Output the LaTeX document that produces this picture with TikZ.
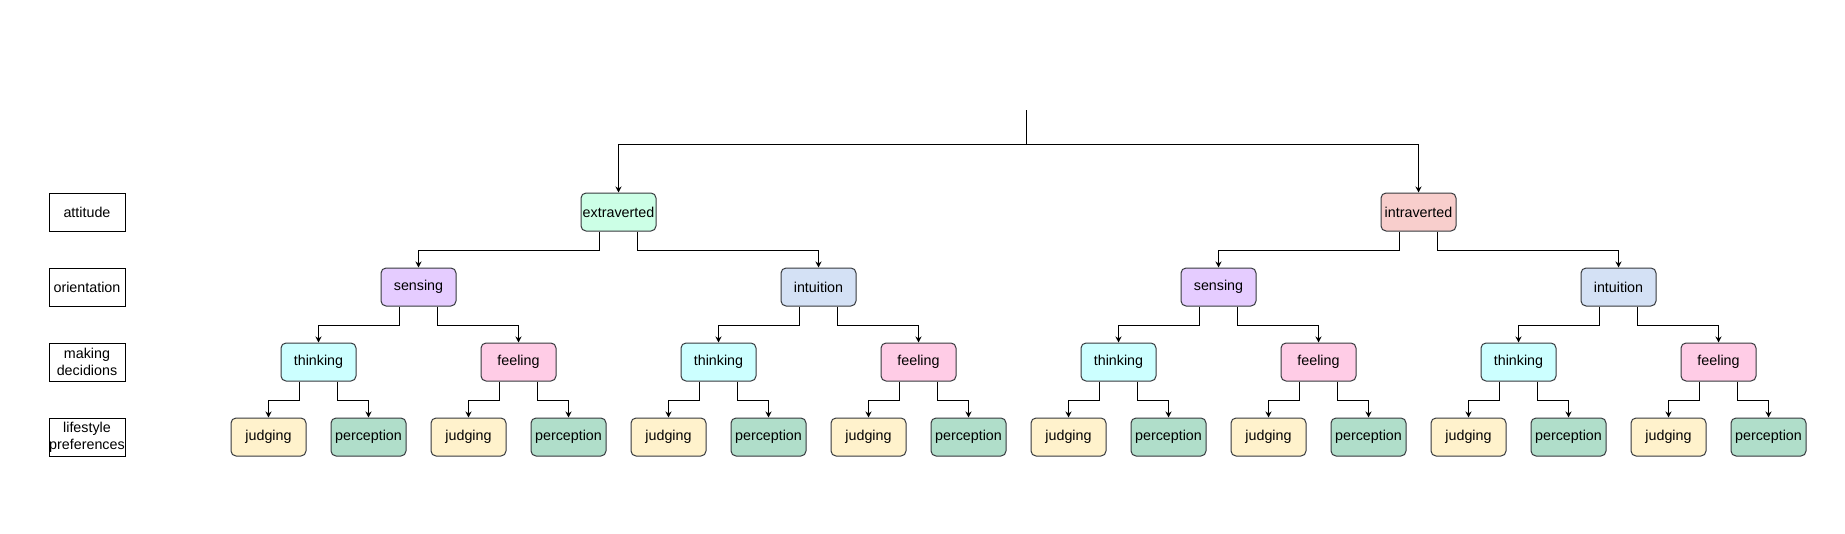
\documentclass[tikz,border=0pt]{standalone}
\usepackage{fontspec}
\setmainfont{Liberation Sans}
\usetikzlibrary{arrows.meta, positioning, calc}
\definecolor{extcol}{HTML}{CCFFE6}
\definecolor{intrcol}{HTML}{F8CECC}
\definecolor{senscol}{HTML}{E5CCFF}
\definecolor{intucol}{HTML}{D4E1F5}
\definecolor{thinkcol}{HTML}{CCFFFF}
\definecolor{feelcol}{HTML}{FFCCE6}
\definecolor{judgecol}{HTML}{FFF2CC}
\definecolor{percol}{HTML}{B0DECA}
\definecolor{edgegray}{HTML}{36393D}

\tikzset{
  typebox/.style={draw=edgegray, line width=1pt, rounded corners=5pt,
    minimum width=75pt, minimum height=38pt, inner sep=0pt,
    font=\fontsize{14.3}{16.7}\selectfont},
  levelbox/.style={draw=black, line width=1pt,
    minimum width=76pt, minimum height=38pt, inner sep=0pt, align=center,
    font=\fontsize{14.3}{16.7}\selectfont},
  link/.style={draw=black, line width=1pt, -{Stealth[length=6pt,width=6pt]}}
}

\begin{document}
\begin{tikzpicture}[x=1pt, y=-1pt]
  \useasboundingbox (0,0) rectangle (1845,533);

  % level captions on the left
  \node[levelbox] (attitude) at (87,212) {attitude};
  \node[levelbox] (orient) at (87,287) {orientation};
  \node[levelbox] (decide) at (87,362) {making\\decidions};
  \node[levelbox] (life) at (87,437) {lifestyle\\preferences};

  % attitude
  \coordinate (root) at (1026,110);
  \coordinate (split) at (1026,144);
  \node[typebox, fill=extcol] (e) at (618.5,212) {extraverted};
  \node[typebox, fill=intrcol] (i) at (1418.5,212) {intraverted};
  \draw[line width=1pt] (root) -- (split);
  \draw[link] (split) -| (e.north);
  \draw[link] (split) -| (i.north);

  % orientation
  \node[typebox, fill=senscol] (s1) at (418.5,287) {sensing};
  \node[typebox, fill=intucol] (n1) at (818.5,287) {intuition};
  \node[typebox, fill=senscol] (s2) at (1218.5,287) {sensing};
  \node[typebox, fill=intucol] (n2) at (1618.5,287) {intuition};
  \draw[link] ([xshift=-19pt]e.south) -- ++(0,-18.5pt) -| (s1.north);
  \draw[link] ([xshift=19pt]e.south) -- ++(0,-18.5pt) -| (n1.north);
  \draw[link] ([xshift=-19pt]i.south) -- ++(0,-18.5pt) -| (s2.north);
  \draw[link] ([xshift=19pt]i.south) -- ++(0,-18.5pt) -| (n2.north);

  % making decisions and lifestyle preferences
  \foreach \p in {s1,n1,s2,n2}{
    \node[typebox, fill=thinkcol] (\p-t) at ($(\p)+(-100,75)$) {thinking};
    \node[typebox, fill=feelcol] (\p-f) at ($(\p)+(100,75)$) {feeling};
    \draw[link] ([xshift=-19pt]\p.south) -- ++(0,-18.5pt) -| (\p-t.north);
    \draw[link] ([xshift=19pt]\p.south) -- ++(0,-18.5pt) -| (\p-f.north);
    \foreach \c in {\p-t,\p-f}{
      \node[typebox, fill=judgecol] (\c-j) at ($(\c)+(-50,75)$) {judging};
      \node[typebox, fill=percol] (\c-p) at ($(\c)+(50,75)$) {perception};
      \draw[link] ([xshift=-19pt]\c.south) -- ++(0,-18.5pt) -| (\c-j.north);
      \draw[link] ([xshift=19pt]\c.south) -- ++(0,-18.5pt) -| (\c-p.north);
    }
  }
\end{tikzpicture}
\end{document}
